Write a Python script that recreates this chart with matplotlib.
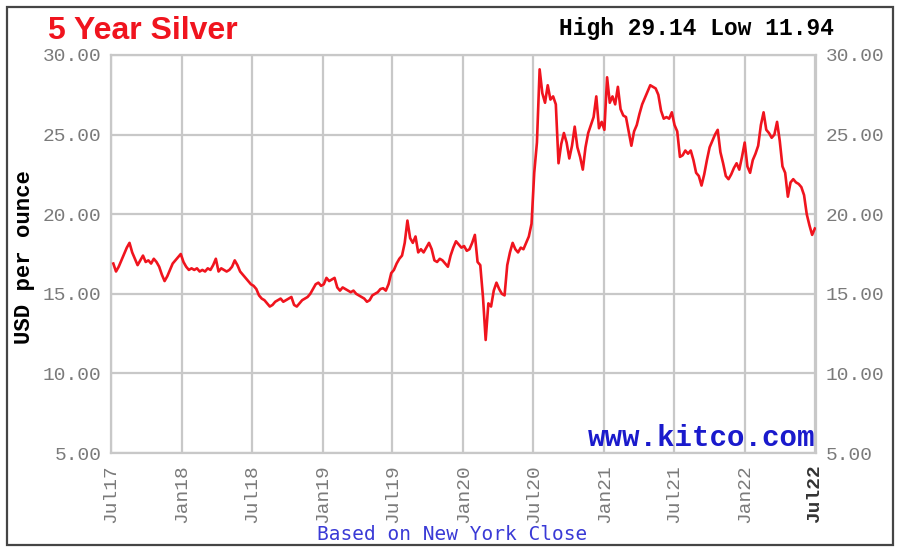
"""
5 年白银价格走势（仿 kitco 图）
"""

import matplotlib

matplotlib.use("Agg")
import matplotlib.pyplot as plt
import pandas as pd
from matplotlib.patches import Rectangle

W, H = 900, 553

TITLE = "5 Year Silver"
HIGH_LOW = "High 29.14 Low 11.94"
Y_LABEL = "USD per ounce"
FOOTNOTE = "Based on New York Close"
WATERMARK = "www.kitco.com"

# 每周收盘价，起始于 2017-07-07
START_DATE = "2017-07-07"
PRICES = [
    16.9, 16.4, 16.7, 17.1, 17.5, 17.9, 18.2, 17.6, 17.2, 16.8,
    17.1, 17.4, 17.0, 17.1, 16.9, 17.2, 17.0, 16.7, 16.2, 15.8,
    16.1, 16.5, 16.9, 17.1, 17.3, 17.5, 17.0, 16.7, 16.5, 16.6,
    16.5, 16.6, 16.4, 16.5, 16.4, 16.6, 16.5, 16.8, 17.2, 16.4,
    16.6, 16.5, 16.4, 16.5, 16.7, 17.1, 16.8, 16.4, 16.2, 16.0,
    15.8, 15.6, 15.5, 15.3, 14.9, 14.7, 14.6, 14.4, 14.2, 14.3,
    14.5, 14.6, 14.7, 14.5, 14.6, 14.7, 14.8, 14.3, 14.2, 14.4,
    14.6, 14.7, 14.8, 15.0, 15.3, 15.6, 15.7, 15.5, 15.6, 16.0,
    15.8, 15.9, 16.0, 15.4, 15.2, 15.4, 15.3, 15.2, 15.1, 15.2,
    15.0, 14.9, 14.8, 14.7, 14.5, 14.6, 14.9, 15.0, 15.1, 15.3,
    15.35, 15.2, 15.6, 16.3, 16.5, 16.9, 17.2, 17.4, 18.2, 19.6,
    18.5, 18.2, 18.6, 17.6, 17.8, 17.6, 17.9, 18.2, 17.8, 17.1,
    17.0, 17.2, 17.1, 16.9, 16.7, 17.4, 17.9, 18.3, 18.1, 17.9,
    18.0, 17.7, 17.8, 18.2, 18.7, 17.0, 16.8, 14.8, 12.1, 14.4,
    14.2, 15.2, 15.7, 15.3, 15.0, 14.9, 16.8, 17.6, 18.2, 17.8,
    17.6, 17.9, 17.8, 18.2, 18.6, 19.4, 22.6, 24.5, 29.1, 27.6,
    27.0, 28.1, 27.2, 27.4, 26.9, 23.2, 24.4, 25.1, 24.5, 23.5,
    24.3, 25.5, 24.2, 23.6, 22.8, 24.2, 25.1, 25.6, 26.1, 27.4,
    25.4, 25.8, 25.3, 28.6, 27.0, 27.4, 26.9, 28.0, 26.6, 26.2,
    26.1, 25.2, 24.3, 25.2, 25.6, 26.3, 26.9, 27.3, 27.7, 28.1,
    28.0, 27.9, 27.5, 26.5, 26.0, 26.1, 26.0, 26.4, 25.6, 25.2,
    23.6, 23.7, 24.0, 23.8, 24.0, 23.4, 22.6, 22.4, 21.8, 22.5,
    23.4, 24.2, 24.6, 25.0, 25.3, 23.9, 23.2, 22.4, 22.2, 22.5,
    22.9, 23.2, 22.8, 23.6, 24.5, 23.0, 22.6, 23.4, 23.8, 24.3,
    25.6, 26.4, 25.3, 25.1, 24.8, 25.0, 25.8, 24.6, 23.0, 22.6,
    21.1, 22.0, 22.2, 22.0, 21.9, 21.7, 21.2, 20.0, 19.3, 18.7,
    19.1,
]

TICK_DATES = [
    "2017-07-01", "2018-01-01", "2018-07-01", "2019-01-01", "2019-07-01",
    "2020-01-01", "2020-07-01", "2021-01-01", "2021-07-01", "2022-01-01",
    "2022-07-01",
]
TICK_LABELS = [
    "Jul17", "Jan18", "Jul18", "Jan19", "Jul19", "Jan20",
    "Jul20", "Jan21", "Jul21", "Jan22", "Jul22",
]
Y_TICKS = [5, 10, 15, 20, 25, 30]

MONO = "Liberation Mono"
GRID_COLOR = "#c8c8c8"
LABEL_GRAY = "#7a7a7a"
RED = "#f0141e"
BLUE = "#1a1acc"


def px(x, y):
    """像素坐标 -> 图坐标（原点在左上）。"""
    return x / W, 1 - y / H


def main():
    fig = plt.figure(figsize=(W / 100, H / 100), dpi=100)
    fig.patch.set_facecolor("white")

    # 外框
    fig.patches.append(Rectangle(px(7, 545), 886 / W, 538 / H, transform=fig.transFigure,
                                 fill=False, edgecolor="#454545", linewidth=1.6))

    ax = fig.add_axes([111 / W, 100 / H, 705 / W, 398 / H])
    dates = pd.date_range(START_DATE, periods=len(PRICES), freq="7D")
    ax.plot(dates, PRICES, color=RED, linewidth=1.9, zorder=3)

    ax.set_xlim(pd.Timestamp("2017-07-01"), pd.Timestamp("2022-07-04"))
    ax.set_ylim(5, 30)

    ticks = [pd.Timestamp(d) for d in TICK_DATES]
    ax.set_xticks(ticks)
    ax.set_xticklabels(TICK_LABELS, rotation=90, fontfamily=MONO,
                       fontsize=14, color=LABEL_GRAY, va="top")
    ax.set_yticks(Y_TICKS)
    ax.set_yticklabels([f"{v:.2f}" for v in Y_TICKS], fontfamily=MONO,
                       fontsize=14, color=LABEL_GRAY)
    ax.tick_params(axis="both", length=0)
    ax.tick_params(axis="x", pad=8)
    ax.tick_params(axis="y", pad=7, labelright=True)

    last = ax.get_xticklabels()[-1]
    last.set_fontweight("bold")
    last.set_color("#333333")

    ax.grid(True, color=GRID_COLOR, linewidth=1.6)
    ax.set_axisbelow(True)
    for sp in ax.spines.values():
        sp.set_color(GRID_COLOR)
        sp.set_linewidth(1.6)

    # 文本
    fig.text(*px(48, 31), TITLE, color=RED, fontsize=23, fontweight="bold",
             fontfamily="Liberation Sans", ha="left", va="center")
    fig.text(*px(834, 28), HIGH_LOW, color="black", fontsize=16.5, fontweight="bold",
             fontfamily=MONO, ha="right", va="center")
    fig.text(*px(25, 257), Y_LABEL, color="black", fontsize=16, fontweight="bold",
             fontfamily=MONO, rotation=90, ha="center", va="center")
    fig.text(*px(452, 535), FOOTNOTE, color="#3a3ad6", fontsize=14,
             fontfamily="DejaVu Sans Mono", ha="center", va="center")
    fig.text(*px(815, 446), WATERMARK, color=BLUE, fontsize=21, fontweight="bold",
             fontfamily=MONO, ha="right", va="baseline", zorder=5)

    fig.savefig("out.png", dpi=100)
    plt.close(fig)


if __name__ == "__main__":
    main()
